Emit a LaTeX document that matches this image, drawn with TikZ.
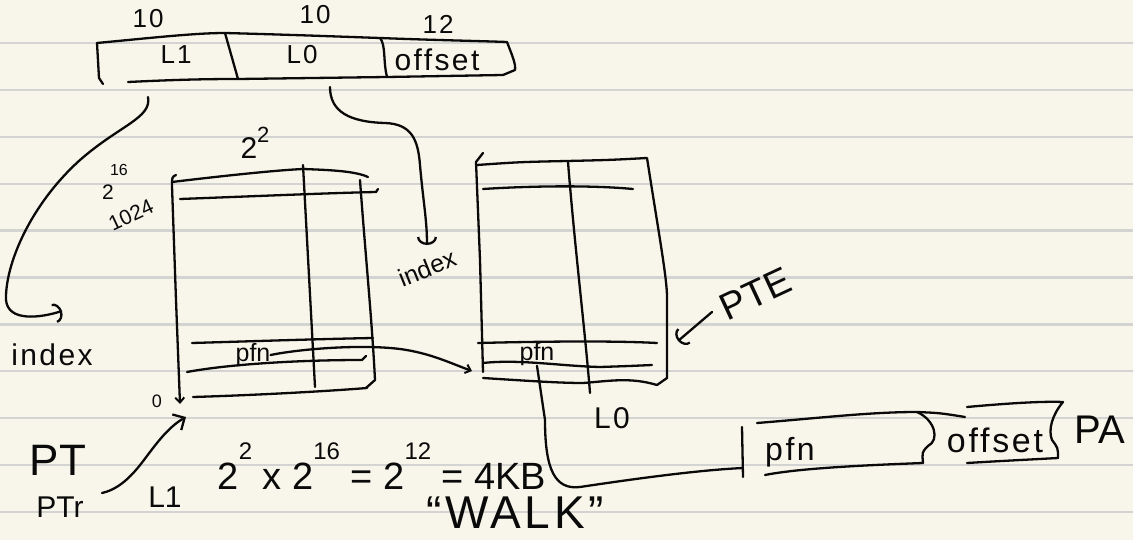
\documentclass[tikz,border=0pt]{standalone}
\usepackage{fontspec}
\setmainfont{Liberation Sans}
\usetikzlibrary{arrows.meta}
\definecolor{paper}{HTML}{F8F6EA}
\definecolor{ruling}{HTML}{D3D3D1}
\definecolor{ink}{HTML}{0A0A0A}
\newcommand{\fs}[1]{\fontsize{#1}{#1}\selectfont}
\newcommand{\hsup}[1]{\raisebox{0.8em}{\fs{24}#1}}
\begin{document}
\begin{tikzpicture}[x=1pt,y=-1pt,
  pen/.style={draw=ink,line width=2.3pt,line cap=round,line join=round},
  lbl/.style={text=ink,inner sep=0pt,anchor=center},
  barb/.style={-{Straight Barb[length=9pt,width=18pt,line width=2.3pt]}},
  sbarb/.style={-{Straight Barb[length=5pt,width=9pt,line width=2pt]}},
  ubarb/.style={-{Arc Barb[length=8pt,width=20pt,line width=2.3pt]}},
  wide/.style={font=\fs{#1}\addfontfeature{LetterSpace=8}},
]
\fill[paper] (0,0) rectangle (1133,540);
\useasboundingbox (0,0) rectangle (1133,540);
\foreach \i in {0,...,10} \draw[ruling,line width=2.2pt] (0,43+46.9*\i) -- (1133,43+46.9*\i);

% ---------- virtual address bar ----------
\draw[pen] (103,84) -- (99,78) -- (97,43);
\draw[pen] (97,43) .. controls (150,38) and (195,33) .. (225,33)
  .. controls (300,35) and (350,37) .. (380,38)
  .. controls (430,40) and (480,41) .. (507,42)
  .. controls (512,55) and (516,64) .. (515,70) -- (503,75);
\draw[pen] (128,82) .. controls (170,80) and (200,79) .. (238,79) -- (387,77) -- (503,75);
\draw[pen] (225,33) -- (238,79);
\draw[pen] (380,38) .. controls (386,45) and (383,62) .. (387,77);
\node[lbl,wide=26] (b1) at (148,19) {10};
\node[lbl,wide=26] (b2) at (315,15) {10};
\node[lbl,wide=26] (b3) at (438,24) {12};
\node[lbl,wide=26] (fL1) at (176,55) {L1};
\node[lbl,wide=26] (fL0) at (302,55) {L0};
\node[lbl,wide=30] (fOff) at (437,60) {offset};

% ---------- index arrows ----------
\coordinate (l1src) at (148,97);
\coordinate (idx1tip) at (62,311);
\coordinate (l0src) at (330,87);
\coordinate (idx2tip) at (427,245);
\draw[pen,ubarb] (l1src) .. controls (152,118) and (120,125) .. (80,160)
  .. controls (30,205) and (5,265) .. (6,300)
  .. controls (8,322) and (40,318) .. (idx1tip);
\draw[pen,ubarb] (l0src) .. controls (330,112) and (350,122) .. (385,123)
  .. controls (412,124) and (418,140) .. (420,165)
  .. controls (423,200) and (427,220) .. (idx2tip);
\node[lbl,wide=30] (index1) at (52,355) {index};
\node[lbl,font=\fs{25},rotate=22] (index2) at (427,268) {index};

% ---------- L1 page table ----------
\draw[pen,sbarb] (176,175) .. controls (172,177) .. (172,186) -- (176,300) -- (180,404);
\draw[pen] (172,182) .. controls (230,175) and (280,170) .. (303,169)
  .. controls (330,170) and (355,171) .. (368,177);
\draw[pen] (360,180) .. controls (365,250) and (372,320) .. (375,380) -- (366,388);
\draw[pen] (303,165) -- (315,387);
\draw[pen] (180,199) .. controls (260,196) and (330,193) .. (376,192) -- (378,189);
\draw[pen] (192,343) .. controls (260,341) and (320,339) .. (373,338);
\draw[pen] (187,372) .. controls (230,364) and (300,360) .. (362,360) -- (366,356);
\draw[pen] (193,397) .. controls (260,395) and (330,391) .. (367,388);
\node[lbl,font=\fs{30}] (pow22) at (255,143) {2\raisebox{.55em}{\fs{22}2}};
\node[lbl,font=\fs{16}] (e16) at (119,170) {16};
\node[lbl,font=\fs{21}] (e2) at (108,192) {2};
\node[lbl,font=\fs{21},rotate=25] (n1024) at (131,215) {1024};
\node[lbl,font=\fs{18}] (zero) at (157,401) {0};
\node[lbl,font=\fs{25}] (pfn1) at (253,355) {pfn};

% ---------- L0 page table ----------
\draw[pen] (483,153) -- (476,162) -- (480,260) -- (483,372);
\draw[pen] (477,165) .. controls (520,162) .. (567,161) .. controls (610,160) .. (647,158)
  -- (650,177) .. controls (660,240) and (667,280) .. (667,297) -- (667,378) -- (657,385);
\draw[pen] (568,162) .. controls (575,250) and (585,330) .. (590,393);
\draw[pen] (483,189) .. controls (530,186) and (590,185) .. (633,189);
\draw[pen] (478,343) .. controls (560,341) and (620,341) .. (657,343);
\draw[pen] (483,363) .. controls (520,359) and (560,366) .. (600,367) .. controls (630,366) .. (652,365);
\draw[pen] (483,378) .. controls (530,381) and (560,383) .. (583,383)
  .. controls (610,381) and (630,377) .. (657,385);
\node[lbl,font=\fs{25}] (pfn2) at (537,354) {pfn};
\node[lbl,wide=30] (lzero) at (612,418) {L0};
\coordinate (pteTail) at (712,312);
\coordinate (pteTip) at (678,341);
\draw[pen,ubarb] (pteTail) -- (pteTip);
\node[lbl,font=\fs{38},rotate=25] (pte) at (755,294) {PTE};

% ---------- pfn links ----------
\coordinate (t2in) at (472,371);
\draw[pen,sbarb] (pfn1.east) .. controls (300,349) and (360,344) .. (400,349)
  .. controls (430,353) and (450,363) .. (t2in);
\coordinate (paL) at (743,468);
\draw[pen] (pfn2.south) -- (545,420) .. controls (545,470) and (555,490) .. (580,487)
  .. controls (640,478) and (700,470) .. (paL);

% ---------- PT register ----------
\coordinate (ptrTail) at (102,493);
\coordinate (ptrTip) at (186,417);
\draw[pen,barb] (ptrTail) .. controls (125,488) and (140,465) .. (150,452)
  .. controls (162,436) and (172,425) .. (ptrTip);
\node[lbl,font=\fs{44}] (pt) at (58,460) {PT};
\node[lbl,font=\fs{30}] (ptr) at (60,507) {PTr};
\node[lbl,font=\fs{30}] (lone) at (165,497) {L1};

% ---------- size calculation ----------
\node[lbl,font=\fs{38}] (calc) at (382,466) {2\hsup{2} x 2\hsup{16} = 2\hsup{12} = 4KB};
\node[lbl,wide=46] (walk) at (515,513) {“WALK”};

% ---------- physical address ----------
\draw[pen] (742,427) -- (743,477);
\draw[pen] (757,423) .. controls (820,418) and (870,412) .. (917,412) .. controls (940,413) .. (965,417);
\draw[pen] (765,475) .. controls (800,468) and (870,465) .. (923,463);
\draw[pen] (917,412) .. controls (935,420) and (940,440) .. (928,446) .. controls (922,452) .. (923,463);
\draw[pen] (967,407) .. controls (1000,404) and (1040,401) .. (1063,402)
  .. controls (1052,415) and (1048,430) .. (1052,440) .. controls (1058,448) .. (1058,458);
\draw[pen] (967,463) .. controls (1000,461) and (1040,459) .. (1058,458);
\node[lbl,wide=32] (pfn3) at (790,452) {pfn};
\node[lbl,wide=34] (off2) at (995,440) {offset};
\node[lbl,font=\fs{40}] (pa) at (1100,430) {PA};
\end{tikzpicture}
\end{document}
